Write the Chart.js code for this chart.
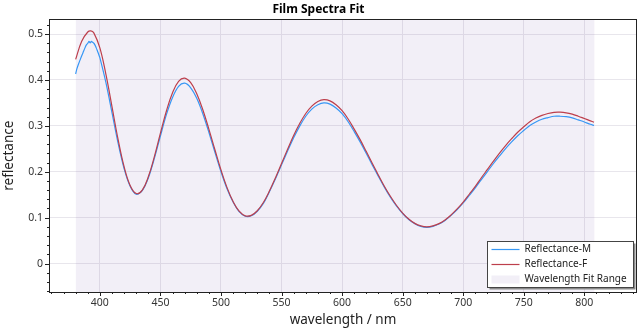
<!DOCTYPE html>
<html>
<head>
<meta charset="utf-8">
<title>Film Spectra Fit</title>
<script src="https://cdn.jsdelivr.net/npm/chart.js@4.4.1/dist/chart.umd.min.js"></script>
<style>
  html, body { margin: 0; padding: 0; background: #fff; }
  #wrap { width: 642px; height: 329px; }
</style>
</head>
<body>
<div id="wrap"><canvas id="myChart" width="642" height="329"></canvas></div>
<script>
// fitted model (Reflectance-F), nm / reflectance
const wavelengthF = [
  380, 385, 390, 392.5, 395, 400, 405, 410, 415, 420, 425, 430, 435, 440, 445, 450,
  455, 460, 465, 470, 475, 480, 485, 490, 495, 500, 505, 510, 515, 520, 525,
  530, 535, 540, 545, 550, 555, 560, 565, 570, 575, 580, 585, 590, 595, 600,
  605, 610, 615, 620, 625, 630, 635, 640, 645, 650, 655, 660, 665, 670, 675,
  680, 685, 690, 695, 700, 705, 710, 715, 720, 725, 730, 735, 740, 745, 750,
  755, 760, 765, 770, 775, 780, 785, 790, 795, 800, 805, 808
];
const reflectanceF = [
  0.445, 0.4845, 0.5045, 0.507, 0.5026, 0.470, 0.412, 0.342, 0.271, 0.211, 0.170, 0.1525, 0.160, 0.189, 0.233, 0.284,
  0.333, 0.372, 0.397, 0.404, 0.394, 0.370, 0.335, 0.293, 0.248, 0.204, 0.1655, 0.135, 0.114, 0.104, 0.105,
  0.115, 0.133, 0.158, 0.187, 0.218, 0.249, 0.279, 0.305, 0.327, 0.343, 0.353, 0.357, 0.3545, 0.346, 0.333,
  0.315, 0.293, 0.2695, 0.244, 0.218, 0.1926, 0.168, 0.146, 0.1265, 0.110, 0.097, 0.0875, 0.082, 0.080, 0.082,
  0.087, 0.095, 0.106, 0.119, 0.134, 0.151, 0.168, 0.187, 0.205, 0.223, 0.2405, 0.257, 0.272, 0.286, 0.298,
  0.309, 0.317, 0.323, 0.327, 0.3295, 0.3298, 0.3285, 0.3255, 0.321, 0.316, 0.311, 0.308
];

// measured spectrum (Reflectance-M)
const wavelengthM = [
  380, 381, 382, 384, 386, 388, 389, 390, 391, 392, 393, 394, 395, 396, 397, 398, 399, 400,
  405, 410, 415, 420, 425, 430, 435, 440, 445, 450,
  455, 460, 465, 470, 475, 480, 485, 490, 495, 500, 505, 510, 515, 520, 525,
  530, 535, 540, 545, 550, 555, 560, 565, 570, 575, 580, 585, 590, 595, 600,
  605, 610, 615, 620, 625, 630, 635, 640, 645, 650, 655, 660, 665, 670, 675,
  680, 685, 690, 695, 700, 705, 710, 715, 720, 725, 730, 735, 740, 745, 750,
  755, 760, 765, 770, 775, 780, 785, 790, 795, 800, 805, 808
];
const reflectanceM = [
  0.413, 0.424, 0.432, 0.446, 0.459, 0.472, 0.477, 0.480, 0.484, 0.481, 0.484, 0.482, 0.480, 0.476, 0.470, 0.463, 0.456, 0.4485,
  0.394, 0.329, 0.263, 0.207, 0.1685, 0.151, 0.159, 0.1865, 0.229, 0.278,
  0.325, 0.362, 0.386, 0.393, 0.383, 0.360, 0.3265, 0.286, 0.2425, 0.200, 0.163, 0.134, 0.113, 0.103, 0.104,
  0.114, 0.131, 0.1565, 0.1845, 0.215, 0.245, 0.274, 0.2995, 0.321, 0.3365, 0.346, 0.350, 0.3475, 0.339, 0.3265,
  0.309, 0.2875, 0.2645, 0.240, 0.2145, 0.190, 0.166, 0.144, 0.125, 0.109, 0.096, 0.087, 0.081, 0.079, 0.081,
  0.086, 0.094, 0.105, 0.1175, 0.132, 0.1485, 0.165, 0.183, 0.2005, 0.218, 0.2345, 0.2505, 0.265, 0.2785, 0.290,
  0.301, 0.3085, 0.3145, 0.318, 0.321, 0.321, 0.320, 0.3175, 0.313, 0.3085, 0.3035, 0.301
];

const fitRange = [380, 808.5];
const xTicks = [400, 450, 500, 550, 600, 650, 700, 750, 800];
const yTicks = [0, 0.1, 0.2, 0.3, 0.4, 0.5];
const xRange = [358, 843.5];
const yRange = [-0.062, 0.532];

const FONT = "'Noto Sans', 'Open Sans', sans-serif";
const blue = "#3797f5";
const red = "#bd3f4c";
const shade = "rgba(120, 90, 170, 0.095)";

const toPoints = (xs, ys) => xs.map((x, i) => ({ x: x, y: ys[i] }));

// minor ticks, frame and the boxed legend in the lower right corner
const axisDecor = {
  id: "axisDecor",
  afterDraw(chart) {
    const { ctx, chartArea: a, scales } = chart;
    const x = scales.x;
    const y = scales.y;
    ctx.save();
    ctx.strokeStyle = "#222";
    ctx.lineWidth = 1;
    ctx.beginPath();
    for (let v = 360; v <= xRange[1]; v += 10) {
      const px = Math.round(x.getPixelForValue(v)) + 0.5;
      const len = v % 50 === 0 ? 4 : 2;
      ctx.moveTo(px, a.bottom);
      ctx.lineTo(px, a.bottom + len);
    }
    for (let i = -3; i <= 26; i++) {
      const py = Math.round(y.getPixelForValue(i * 0.02)) + 0.5;
      const len = i % 5 === 0 ? 4 : 2;
      ctx.moveTo(a.left, py);
      ctx.lineTo(a.left - len, py);
    }
    ctx.stroke();
    ctx.strokeRect(Math.round(a.left) + 0.5, Math.round(a.top) + 0.5,
      Math.round(a.right - a.left) - 1, Math.round(a.bottom - a.top));

    // legend
    const w = 146, h = 46;
    const bx = Math.round(a.right - 4 - w) + 0.5;
    const by = Math.round(a.bottom - 5 - h) + 0.5;
    ctx.fillStyle = "#8a8a8a";
    ctx.fillRect(bx + 2, by + 2, w, h);
    ctx.fillStyle = "#fff";
    ctx.fillRect(bx, by, w, h);
    ctx.strokeStyle = "#444";
    ctx.strokeRect(bx, by, w, h);

    const ds = chart.data.datasets;
    const rows = [ds[1], ds[0], ds[2]];
    ctx.font = "10px " + FONT;
    ctx.textBaseline = "middle";
    rows.forEach((d, i) => {
      const cy = by + 8 + i * 15;
      if (d.fill) {
        ctx.fillStyle = d.backgroundColor;
        ctx.fillRect(bx + 4, cy - 4, 28, 8);
      } else {
        ctx.strokeStyle = d.borderColor;
        ctx.lineWidth = 1.2;
        ctx.beginPath();
        ctx.moveTo(bx + 4, cy);
        ctx.lineTo(bx + 32, cy);
        ctx.stroke();
      }
      ctx.fillStyle = "#222";
      ctx.fillText(d.label, bx + 37, cy);
    });
    ctx.restore();
  },
};

const ctx = document.getElementById("myChart");
const chart = new Chart(ctx, {
  type: "line",
  data: {
    datasets: [
      {
        label: "Reflectance-F",
        data: toPoints(wavelengthF, reflectanceF),
        borderColor: red,
        borderWidth: 1.2,
        pointRadius: 0,
        tension: 0.4,
        fill: false,
      },
      {
        label: "Reflectance-M",
        data: toPoints(wavelengthM, reflectanceM),
        borderColor: blue,
        borderWidth: 1.2,
        pointRadius: 0,
        tension: 0.3,
        fill: false,
      },
      {
        label: "Wavelength Fit Range",
        data: fitRange.map((w) => ({ x: w, y: yRange[1] })),
        borderWidth: 0,
        borderColor: "rgba(0,0,0,0)",
        backgroundColor: shade,
        pointRadius: 0,
        fill: "start",
      },
    ],
  },
  options: {
    responsive: false,
    animation: false,
    devicePixelRatio: 1,
    layout: { padding: { left: 0, right: 5, top: 0, bottom: 1 } },
    plugins: {
      legend: { display: false },
      tooltip: { enabled: false },
      title: {
        display: true,
        text: "Film Spectra Fit",
        color: "#000",
        font: { family: FONT, size: 12, weight: "bold" },
        padding: { top: 2, bottom: 3 },
      },
    },
    scales: {
      x: {
        type: "linear",
        min: xRange[0],
        max: xRange[1],
        afterBuildTicks: (s) => { s.ticks = xTicks.map((v) => ({ value: v })); },
        afterFit: (s) => { s.height = 36; },
        grid: { color: "#e8e6ec", drawTicks: false },
        border: { display: false },
        ticks: { color: "#333", font: { family: FONT, size: 10.5 }, padding: 5, maxRotation: 0 },
        title: {
          display: true,
          text: "wavelength / nm",
          color: "#222",
          font: { family: FONT, size: 13.5 },
          padding: { top: 0, bottom: 0 },
        },
      },
      y: {
        min: yRange[0],
        max: yRange[1],
        afterBuildTicks: (s) => { s.ticks = yTicks.map((v) => ({ value: v })); },
        afterFit: (s) => { s.width = 49; },
        grid: { color: "#e8e6ec", drawTicks: false },
        border: { display: false },
        ticks: { color: "#333", font: { family: FONT, size: 10.5 }, padding: 6 },
        title: {
          display: true,
          text: "reflectance",
          color: "#222",
          font: { family: FONT, size: 13.5 },
          padding: { top: 1, bottom: 0 },
        },
      },
    },
  },
  plugins: [axisDecor],
});
</script>
</body>
</html>
